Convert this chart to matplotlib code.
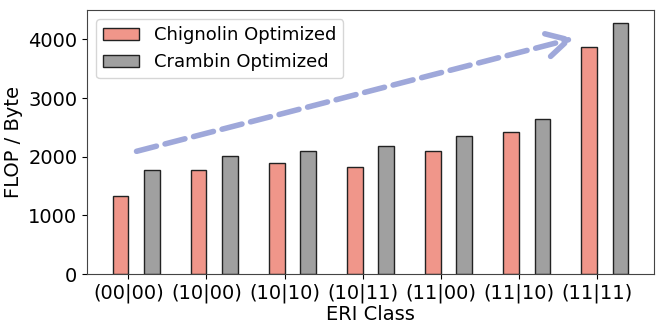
import numpy as np
import matplotlib
matplotlib.use('Agg')
import matplotlib.pyplot as plt

# ERI classes and FLOP/Byte values
classes = ['(00|00)', '(10|00)', '(10|10)', '(10|11)', '(11|00)', '(11|10)', '(11|11)']
chignolin = [1330, 1765, 1890, 1828, 2095, 2424, 3872]
crambin = [1772, 2020, 2095, 2181, 2356, 2651, 4286]

# trend arrow, data coordinates (x in category index, y in FLOP/Byte)
arrow_start = (0.07, 2080)
arrow_end = (5.74, 4030)

plt.rcParams['font.size'] = 14
fig = plt.figure(figsize=(6.64, 3.33), dpi=100)
ax = fig.add_axes([0.131, 0.177, 0.854, 0.793])

x = np.arange(len(classes))
w = 0.2
ax.bar(x - w / 2, chignolin, w, color='#f0968a', edgecolor='#222222', linewidth=1,
       label='Chignolin Optimized')
ax.bar(x + 0.3, crambin, w, color='#a0a0a0', edgecolor='#222222', linewidth=1,
       label='Crambin Optimized')

ax.set_xticks(x)
ax.set_xticklabels(classes)
ax.set_xlabel('ERI Class', labelpad=1)
ax.set_ylabel('FLOP / Byte')
ax.set_yticks([0, 1000, 2000, 3000, 4000])

ax.annotate('', xy=arrow_end, xytext=arrow_start,
            arrowprops=dict(arrowstyle='->,head_length=1.1,head_width=0.6',
                            linestyle='--', lw=4, color='#9fa8da'))

ax.legend(loc='upper left', fontsize=13)
for s in ax.spines.values():
    s.set_color('#444444')

fig.savefig('out.png', dpi=100)
